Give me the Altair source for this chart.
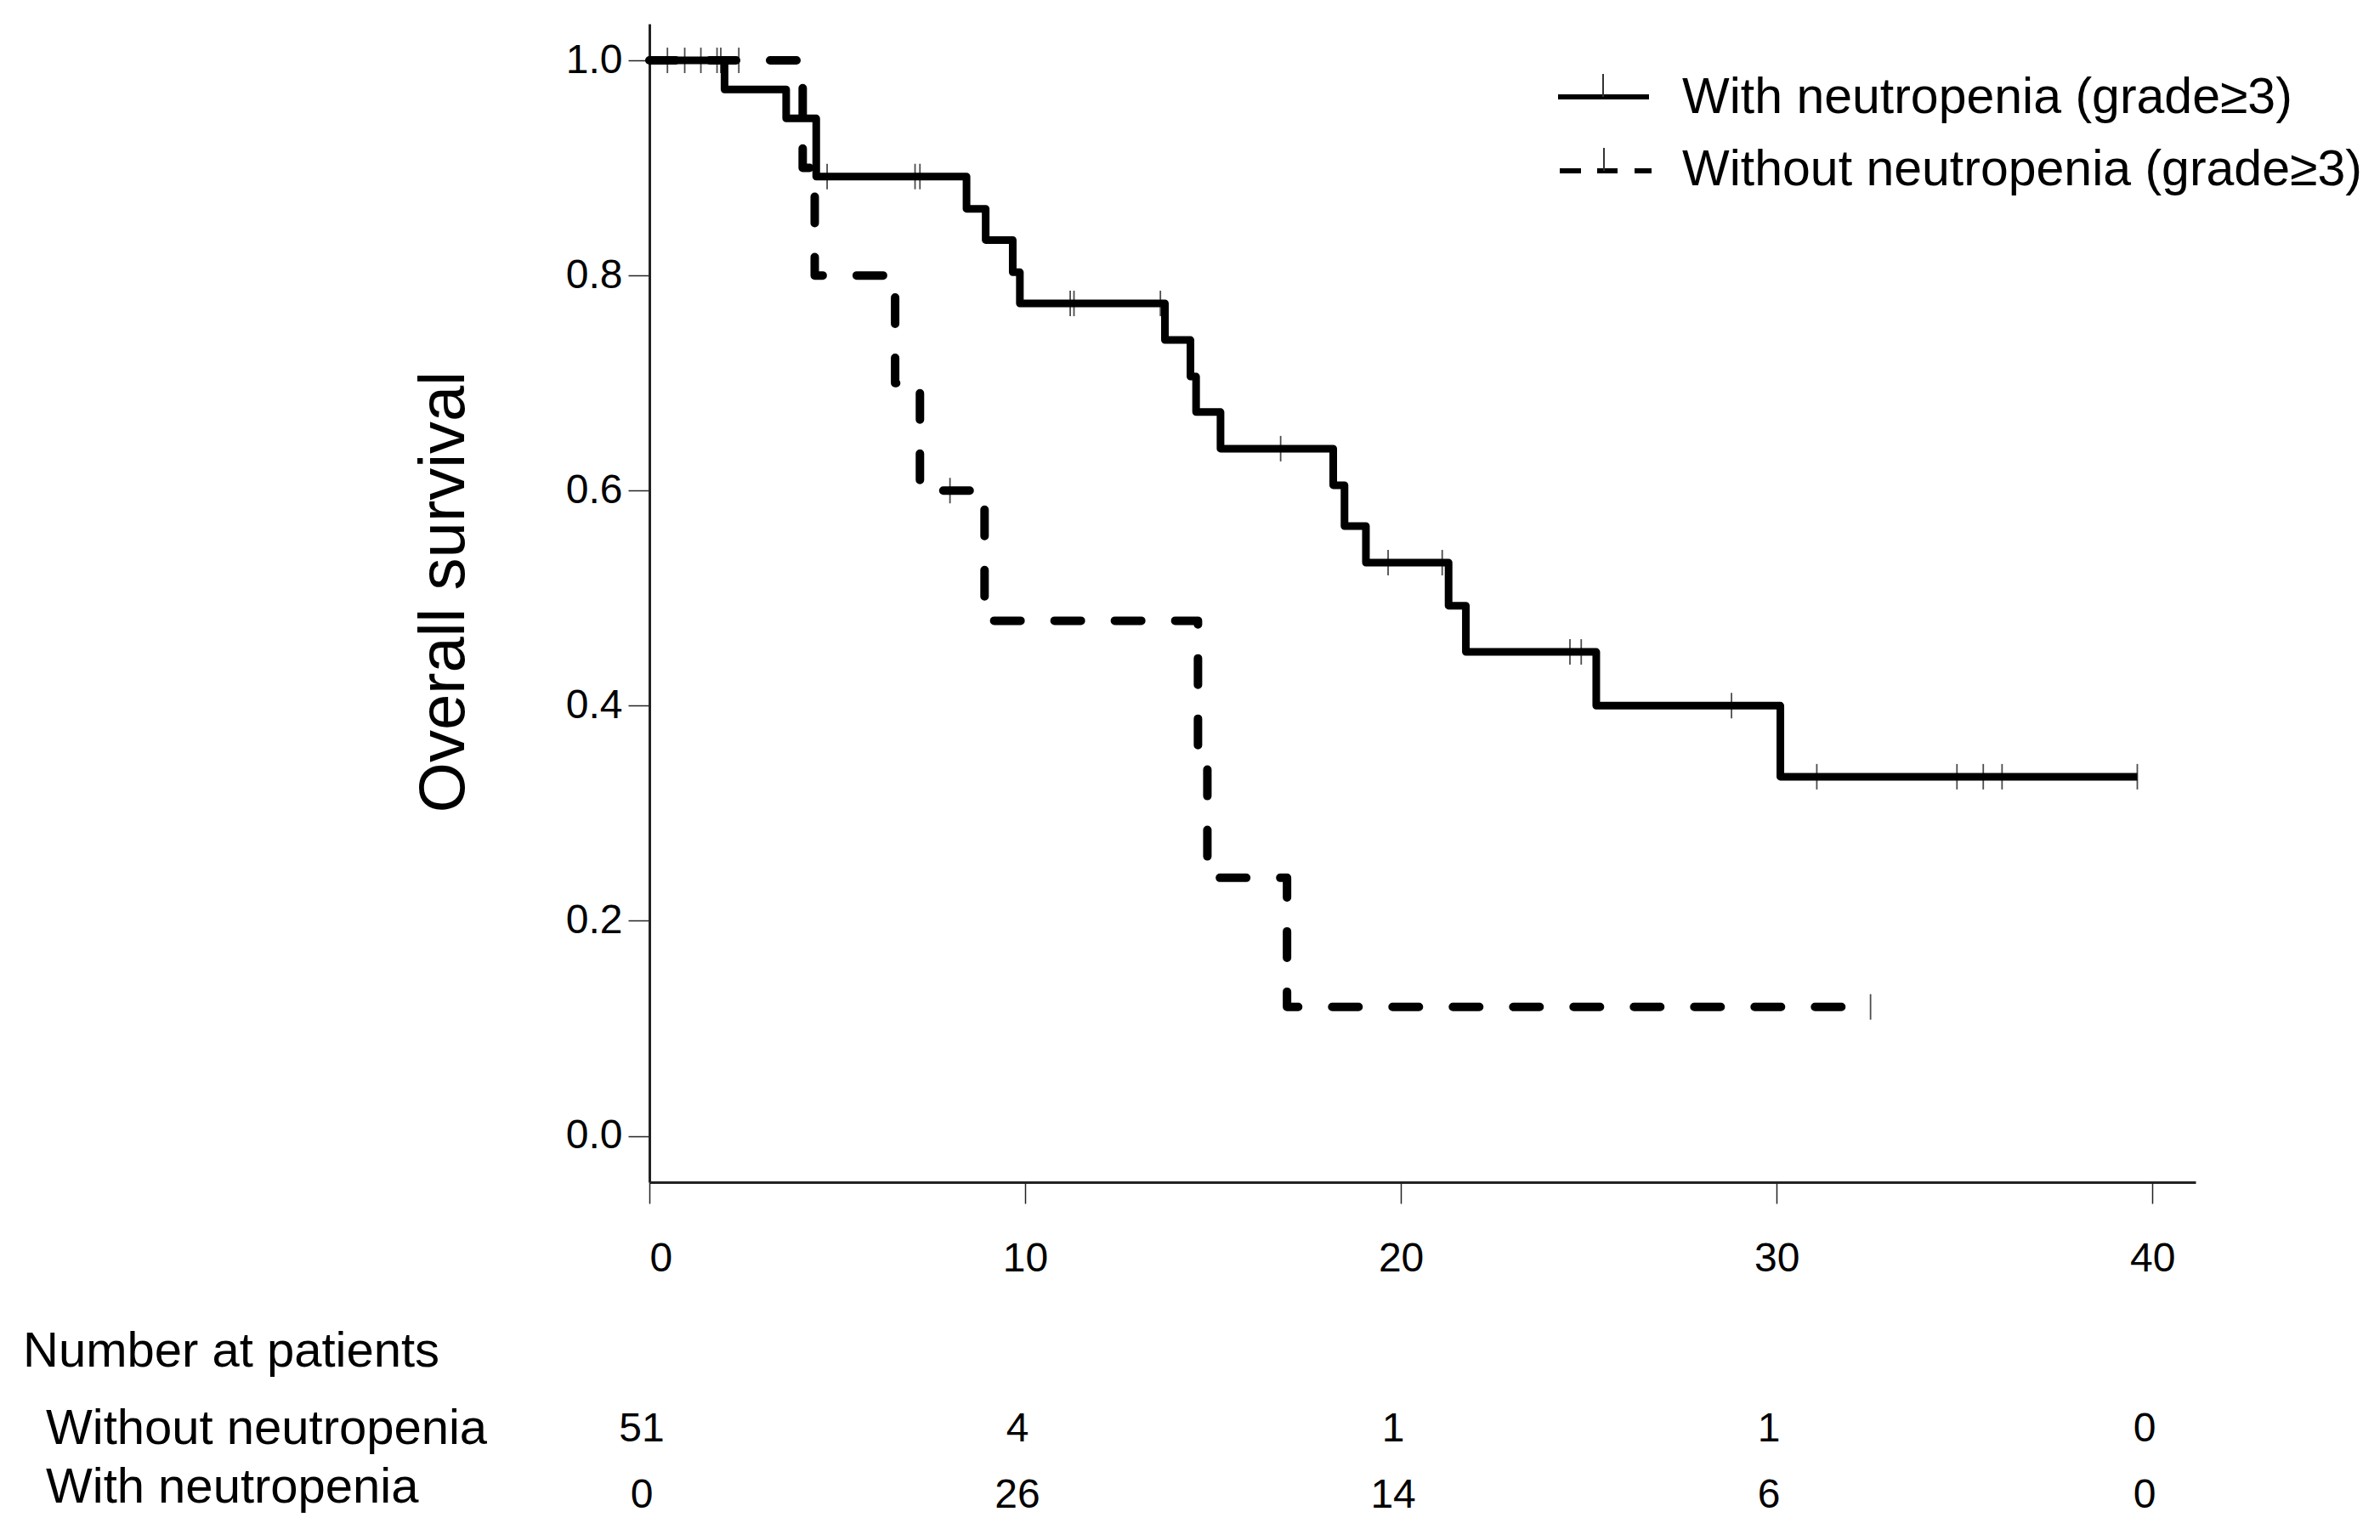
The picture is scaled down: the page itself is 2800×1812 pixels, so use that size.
import altair as alt
import pandas as pd

FONT = "Liberation Sans"

# ---- Kaplan-Meier steps (time in months, survival) ----
with_times = [0, 2.0, 3.64, 4.44, 8.44, 8.95, 9.67, 9.86, 13.72, 14.4, 14.55, 15.2,
              18.2, 18.5, 19.07, 21.27, 21.73, 25.2, 30.1, 39.6]
with_surv = [1.0, 0.973, 0.946, 0.892, 0.862, 0.833, 0.803, 0.774, 0.740, 0.706, 0.673, 0.639,
             0.605, 0.567, 0.533, 0.493, 0.450, 0.400, 0.334, 0.334]
with_cens_t = [0.48, 0.94, 1.37, 1.80, 1.90, 4.73, 7.07, 7.2, 11.2, 11.3, 13.6, 16.8,
               19.66, 21.1, 24.5, 24.8, 28.8, 31.07, 34.8, 35.5, 36.0, 39.6]
with_cens_s = [1.0, 1.0, 1.0, 1.0, 1.0, 0.892, 0.892, 0.892, 0.774, 0.774, 0.774, 0.639,
               0.533, 0.533, 0.450, 0.450, 0.400, 0.334, 0.334, 0.334, 0.334, 0.334]

without_times = [0, 4.08, 4.4, 6.54, 7.2, 8.92, 14.6, 14.85, 16.97, 32.5]
without_surv = [1.0, 0.90, 0.80, 0.70, 0.60, 0.479, 0.359, 0.240, 0.120, 0.120]
without_cens_t = [2.38, 8.0, 32.5]
without_cens_s = [1.0, 0.6, 0.12]

# ---- axis ticks ----
x_ticks = [0, 10, 20, 30, 40]
y_ticks = [0.0, 0.2, 0.4, 0.6, 0.8, 1.0]

# ---- number at risk table ----
risk_times = [0, 10, 20, 30, 40]
risk_without = [51, 4, 1, 1, 0]
risk_with = [0, 26, 14, 6, 0]
risk_title = "Number at patients"
risk_row_labels = ["Without neutropenia", "With neutropenia"]

legend_labels = ["With neutropenia (grade\u22653)", "Without neutropenia (grade\u22653)"]

W, H = 1819, 1363
xscale = alt.Scale(domain=[0, 41.15], nice=False, zero=False)
yscale = alt.Scale(domain=[-0.043, 1.034], nice=False, zero=False)

df_with = pd.DataFrame({"t": with_times, "s": with_surv})
df_without = pd.DataFrame({"t": without_times, "s": without_surv})
df_cens = pd.DataFrame({"t": with_cens_t + without_cens_t, "s": with_cens_s + without_cens_s})

x_axis = alt.Axis(
    values=x_ticks, title=None, grid=False, domainWidth=3, domainColor="#222222",
    tickColor="#222222", tickWidth=1.5, tickSize=25, labelPadding=41, labelFontSize=48,
    labelFont=FONT, labelColor="black", format="d")
y_axis = alt.Axis(
    values=y_ticks, format=".1f", grid=False, domainWidth=3, domainColor="#222222",
    tickColor="#222222", tickWidth=1.5, tickSize=25, labelPadding=7, labelFontSize=48,
    labelFont=FONT, labelColor="black", title="Overall survival", titleFontSize=76,
    titleFont=FONT, titleFontWeight="normal", titleColor="black", titleAngle=270,
    titleX=-242, titleY=668, titleAlign="center", titleBaseline="middle")

def xe():
    return alt.X("t:Q", scale=xscale, axis=x_axis)

def ye():
    return alt.Y("s:Q", scale=yscale, axis=y_axis)

line_with = alt.Chart(df_with).mark_line(
    interpolate="step-after", color="black", strokeWidth=9, strokeCap="butt",
    strokeJoin="round"
).encode(x=xe(), y=ye())

line_without = alt.Chart(df_without).mark_line(
    interpolate="step-after", color="black", strokeWidth=10, strokeCap="round",
    strokeJoin="round", strokeDash=[31, 40]
).encode(x=xe(), y=ye())

cens = alt.Chart(df_cens).mark_tick(
    orient="vertical", color="black", thickness=1.8, size=30
).encode(x=xe(), y=ye())

# ---- legend drawn manually ----
one = pd.DataFrame({"a": [0]})
leg_solid = alt.Chart(one).mark_rule(color="black", strokeWidth=6).encode(
    x=alt.value(1069), x2=alt.value(1176), y=alt.value(86))
leg_solid_tick = alt.Chart(one).mark_rule(color="#333333", strokeWidth=2).encode(
    x=alt.value(1122), y=alt.value(59), y2=alt.value(86))
leg_dash = alt.Chart(one).mark_rule(color="black", strokeWidth=6,
                                    strokeDash=[25, 19, 24, 20, 20]).encode(
    x=alt.value(1071), x2=alt.value(1179), y=alt.value(173))
leg_dash_tick = alt.Chart(one).mark_rule(color="#333333", strokeWidth=2).encode(
    x=alt.value(1123), y=alt.value(146), y2=alt.value(173))

def text_layer(label, xpix, ypix, size):
    return alt.Chart(pd.DataFrame({"label": [label]})).mark_text(
        align="left", baseline="alphabetic", fontSize=size, font=FONT, color="black"
    ).encode(x=alt.value(xpix), y=alt.value(ypix), text="label:N")

leg_text1 = text_layer(legend_labels[0], 1215, 105, 59)
leg_text2 = text_layer(legend_labels[1], 1215, 190, 59)

# ---- number at risk ----
risk_title_chart = text_layer(risk_title, -737, 1580, 58)
risk_label1 = text_layer(risk_row_labels[0], -710, 1671, 58)
risk_label2 = text_layer(risk_row_labels[1], -710, 1740, 58)

def risk_row(counts, ypix):
    df = pd.DataFrame({"t": risk_times, "n": counts})
    return alt.Chart(df).mark_text(
        align="center", baseline="alphabetic", fontSize=48, font=FONT, color="black", dx=-9
    ).encode(x=xe(), y=alt.value(ypix), text="n:Q")

risk_row1 = risk_row(risk_without, 1668)
risk_row2 = risk_row(risk_with, 1746)

chart = alt.layer(
    line_with, line_without, cens,
    leg_solid, leg_solid_tick, leg_dash, leg_dash_tick, leg_text1, leg_text2,
    risk_title_chart, risk_label1, risk_label2, risk_row1, risk_row2
).properties(
    width=W, height=H,
    padding={"left": 19, "top": 20, "right": 0, "bottom": 5},
    background="white",
).configure_view(stroke=None)

chart.save("out.html", embed_options={"renderer": "svg", "actions": False})
